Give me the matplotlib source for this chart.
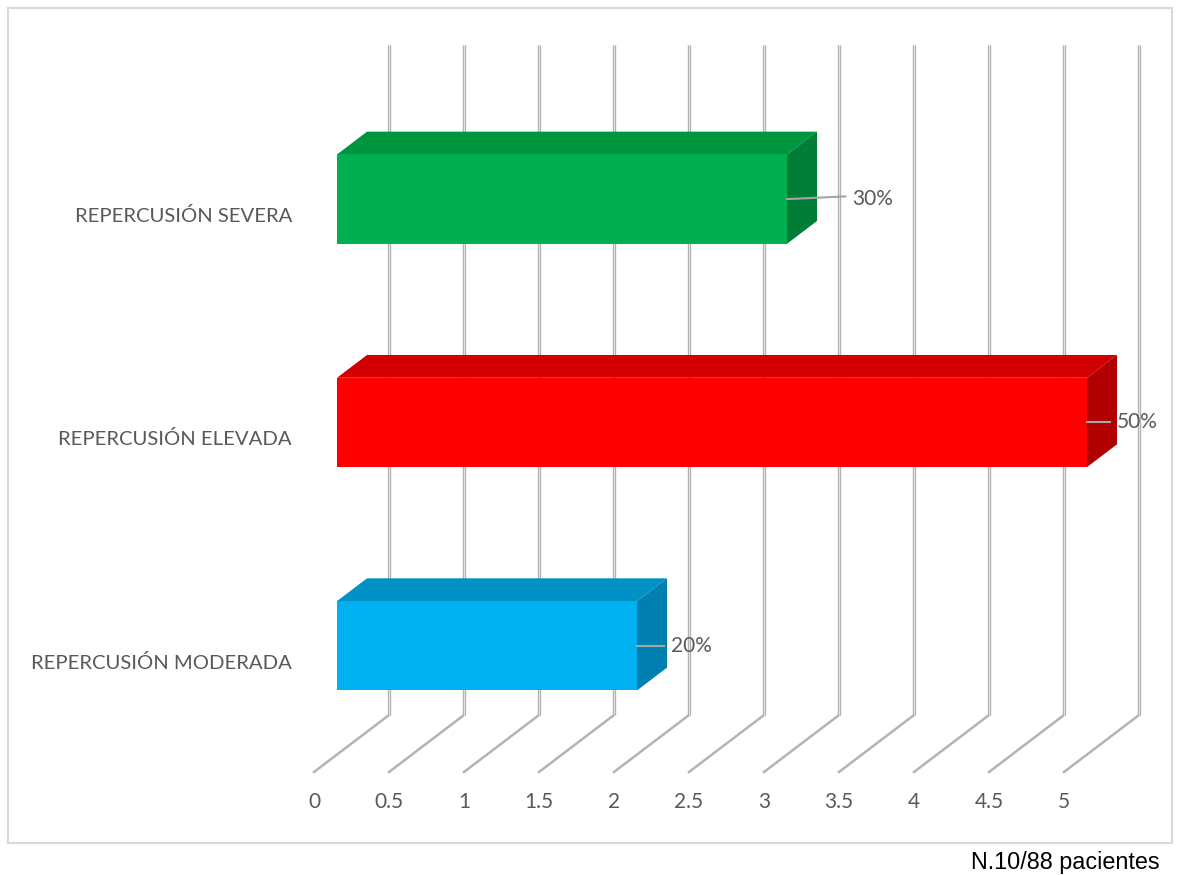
import matplotlib.pyplot as plt
from matplotlib.patches import Polygon, Rectangle

# datos: pacientes por categoria (n=10)
categorias = ['REPERCUSIÓN MODERADA', 'REPERCUSIÓN ELEVADA', 'REPERCUSIÓN SEVERA']
pacientes = [2, 5, 3]
etiquetas = ['20%', '50%', '30%']
ticks = [0, 0.5, 1, 1.5, 2, 2.5, 3, 3.5, 4, 4.5, 5]
tick_labels = ['0', '0.5', '1', '1.5', '2', '2.5', '3', '3.5', '4', '4.5', '5']

colores = {
    'frente': ['#00b0f0', '#ff0000', '#00b050'],
    'arriba': ['#0092c6', '#d20000', '#00963f'],
    'lado': ['#0080b0', '#b00000', '#007d36'],
}

# perspectiva 3D: desplazamiento de profundidad en unidades de datos
DX, DY = 0.5, 0.255
D0, D1 = 0.307, 0.707   # profundidad de cara frontal / trasera de la barra
H = 0.2                 # media altura de barra

def off(x, y, d):
    return (x + DX * d, y + DY * d)

plt.rcParams['font.family'] = ['Lato', 'DejaVu Sans']
gris = '#595959'

fig = plt.figure(figsize=(11.82, 8.75), dpi=100)
ax = fig.add_axes([0, 0, 1, 1])
ax.set_xlim(-314 / 150, (1182 - 314) / 150)
ax.set_ylim(-103 / 223.33, (875 - 103) / 223.33)
ax.axis('off')

# pared del fondo y lineas del piso
for t in ticks:
    x0, y0 = off(t, 0, 1)
    x1, y1 = off(t, 3, 1)
    ax.plot([x0, x1], [y0, y1], color='#b0b0b0', lw=2.4, zorder=1, solid_capstyle='butt')
    ax.plot([x0, x1], [y0, y1], color='#e2e2e2', lw=0.8, zorder=1.1, solid_capstyle='butt')
    ax.plot([t, x0], [0, y0], color='#b4b4b4', lw=1.8, zorder=1)

# barras 3D
for i, v in enumerate(pacientes):
    yc = i + 0.487
    lo, hi = yc - H, yc + H
    frente = [off(0, lo, D0), off(v, lo, D0), off(v, hi, D0), off(0, hi, D0)]
    arriba = [off(0, hi, D0), off(v, hi, D0), off(v, hi, D1), off(0, hi, D1)]
    lado = [off(v, lo, D0), off(v, lo, D1), off(v, hi, D1), off(v, hi, D0)]
    ax.add_patch(Polygon(arriba, closed=True, fc=colores['arriba'][i], ec='none', zorder=3))
    ax.add_patch(Polygon(lado, closed=True, fc=colores['lado'][i], ec='none', zorder=3))
    ax.add_patch(Polygon(frente, closed=True, fc=colores['frente'][i], ec='none', zorder=4))

# etiquetas de datos con linea guia
desplaz = [0.38, 0.353, 0.587]
for i, v in enumerate(pacientes):
    x0, y0 = off(v, i + 0.487, D0)
    xt = v + desplaz[i]
    ax.plot([x0, xt - 0.045], [y0, y0 + (0.012 if i == 2 else 0)], color='#a6a6a6', lw=1.5, zorder=5)
    ax.text(xt, y0, etiquetas[i], ha='left', va='center', fontsize=15, color=gris, zorder=6)

# etiquetas de categorias
for i, c in enumerate(categorias):
    ax.text(-0.147, i + 0.49, c, ha='right', va='center', fontsize=14.6, color=gris)

# etiquetas del eje de valores
for t, lab in zip(ticks, tick_labels):
    ax.text(t, -0.134, lab, ha='center', va='center', fontsize=15, color=gris)

# marco del grafico
fig.patches.append(Rectangle((8 / 1182, 1 - 843 / 875), 1164 / 1182, 835 / 875,
                             transform=fig.transFigure, fill=False, ec='#d9d9d9', lw=1.5))

fig.text(1160 / 1182, 1 - 862 / 875, 'N.10/88 pacientes', ha='right', va='center',
         fontsize=16.8, family=['Liberation Sans', 'DejaVu Sans'], color='black')

fig.savefig('out.png', dpi=100)
